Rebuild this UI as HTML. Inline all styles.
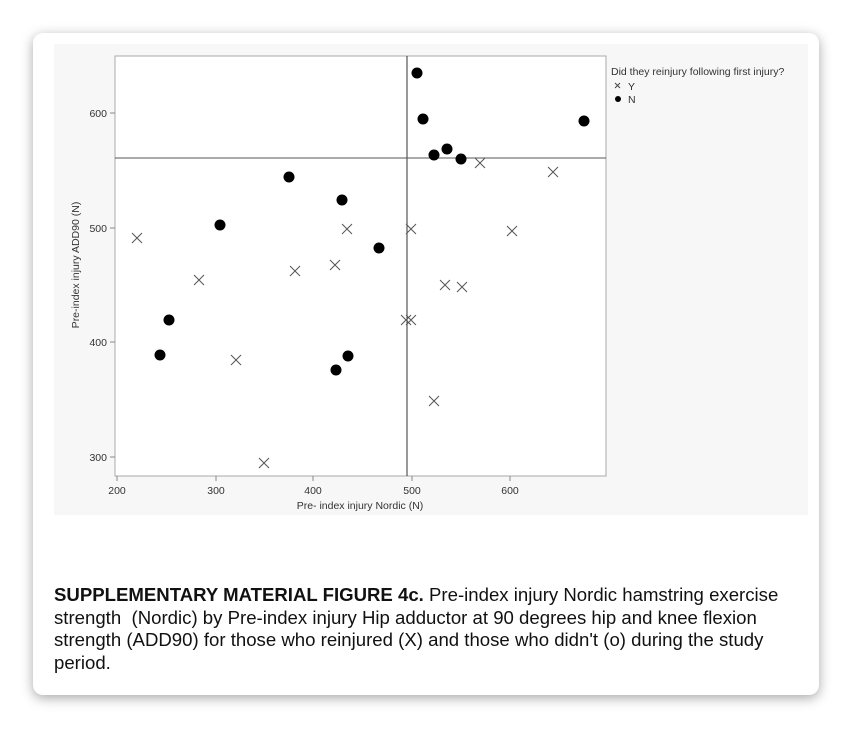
<!DOCTYPE html>
<html><head><style>
body{margin:0;background:#fff;width:852px;height:729px;position:relative;font-family:"Liberation Sans",sans-serif;overflow:hidden}
.card{position:absolute;left:33px;top:33px;width:786px;height:662px;background:#fff;border-radius:10px;box-shadow:0 3px 12px rgba(0,0,0,.35)}
.cap{position:absolute;left:54px;top:584px;width:740px;font-size:18.6px;line-height:22.7px;color:#111}
</style></head><body>
<div class="card"></div>
<svg style="position:absolute;left:0;top:0" width="852" height="729" font-family="Liberation Sans, sans-serif">
<rect x="54" y="44" width="754" height="471" fill="#f7f7f7"/>
<rect x="115" y="56" width="491" height="420" fill="#fff" stroke="#aaa"/>
<g stroke="#888">
<line x1="110" y1="113" x2="115" y2="113"/><line x1="110" y1="228" x2="115" y2="228"/><line x1="110" y1="342" x2="115" y2="342"/><line x1="110" y1="457" x2="115" y2="457"/>
<line x1="117" y1="476" x2="117" y2="481"/><line x1="216" y1="476" x2="216" y2="481"/><line x1="313" y1="476" x2="313" y2="481"/><line x1="412" y1="476" x2="412" y2="481"/><line x1="510" y1="476" x2="510" y2="481"/>
</g>
<g font-size="10.5" fill="#333" text-anchor="end">
<text x="107" y="117">600</text><text x="107" y="232">500</text><text x="107" y="346">400</text><text x="107" y="461">300</text></g>
<g font-size="10.5" fill="#333" text-anchor="middle">
<text x="117" y="494">200</text><text x="216" y="494">300</text><text x="313" y="494">400</text><text x="412" y="494">500</text><text x="510" y="494">600</text>
<text x="360" y="509">Pre- index injury Nordic (N)</text>
<text transform="translate(79,265) rotate(-90)">Pre-index injury ADD90 (N)</text></g>
<line x1="407" y1="56" x2="407" y2="476" stroke="#333"/>
<line x1="115" y1="158" x2="606" y2="158" stroke="#555"/>
<g stroke="#555" stroke-width="1">
<path d="M132 233l10 10M142 233l-10 10M194 275l10 10M204 275l-10 10M231 355l10 10M241 355l-10 10M259 458l10 10M269 458l-10 10M290 266l10 10M300 266l-10 10M330 260l10 10M340 260l-10 10M342 224l10 10M352 224l-10 10M406 224l10 10M416 224l-10 10M401 315l10 10M411 315l-10 10M406 315l10 10M416 315l-10 10M429 396l10 10M439 396l-10 10M440 280l10 10M450 280l-10 10M457 282l10 10M467 282l-10 10M475 158l10 10M485 158l-10 10M507 226l10 10M517 226l-10 10M548 167l10 10M558 167l-10 10"/>
</g>
<g fill="#000">
<circle cx="417" cy="73" r="5.5"/><circle cx="423" cy="119" r="5.5"/><circle cx="434" cy="155" r="5.5"/><circle cx="447" cy="149" r="5.5"/><circle cx="461" cy="159" r="5.5"/><circle cx="584" cy="121" r="5.5"/><circle cx="289" cy="177" r="5.5"/><circle cx="342" cy="200" r="5.5"/><circle cx="220" cy="225" r="5.5"/><circle cx="379" cy="248" r="5.5"/><circle cx="169" cy="320" r="5.5"/><circle cx="160" cy="355" r="5.5"/><circle cx="336" cy="370" r="5.5"/><circle cx="348" cy="356" r="5.5"/>
</g>
<g font-size="10.5" fill="#333">
<text x="611" y="75">Did they reinjury following first injury?</text>
<text x="628" y="90">Y</text><text x="628" y="103">N</text></g>
<path d="M615 83l5 5M620 83l-5 5" stroke="#444"/>
<circle cx="618" cy="99" r="3" fill="#000"/>
</svg>
<div class="cap"><b>SUPPLEMENTARY MATERIAL FIGURE 4c.</b> Pre-index injury Nordic hamstring exercise strength &nbsp;(Nordic) by Pre-index injury Hip adductor at 90 degrees hip and knee flexion strength (ADD90) for those who reinjured (X) and those who didn't (o) during the study period.</div>
</body></html>
